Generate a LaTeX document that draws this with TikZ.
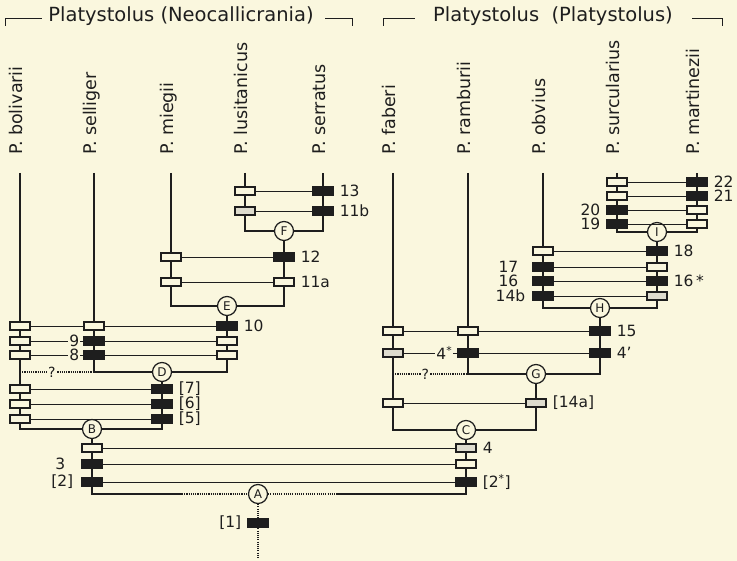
\documentclass[tikz,border=0pt]{standalone}
\usepackage{fontspec}
\setmainfont{DejaVu Sans}
\usetikzlibrary{positioning}
\definecolor{paper}{RGB}{250,247,222}
\definecolor{ink}{RGB}{30,30,30}
\definecolor{shade}{RGB}{222,220,206}

\begin{document}
\begin{tikzpicture}[x=1pt, y=-1pt,
    branch/.style={draw=ink, line width=1.8pt},
    guess/.style={draw=ink, line width=1.5pt, dash pattern=on 1.1pt off 1.1pt},
    rowline/.style={draw=ink, line width=0.8pt},
    charbox/.style={rectangle, draw=ink, line width=1.6pt, minimum width=19.5pt, minimum height=8.5pt, inner sep=0pt},
    openbox/.style={charbox, fill=paper},
    fullbox/.style={charbox, fill=ink},
    greybox/.style={charbox, fill=shade},
    junc/.style={circle, draw=ink, fill=paper, line width=1.2pt, minimum size=19pt, inner sep=0pt, text=ink, font=\fontsize{12}{13}\selectfont},
    taxon/.style={rotate=90, anchor=west, inner sep=0pt, text height=0.75em, text depth=0.25em, text=ink, font=\fontsize{17.5}{20}\selectfont},
    genus/.style={anchor=base, inner sep=0pt, text=ink, font=\fontsize{19.5}{22}\selectfont},
    charno/.style={inner sep=1pt, fill=paper, text=ink, font=\fontsize{15.5}{17}\selectfont},
    qmark/.style={inner sep=1pt, fill=paper, text=ink, font=\fontsize{14}{16}\selectfont}
]
\fill[paper] (0,0) rectangle (737,561);
\useasboundingbox (0,0) rectangle (737,561);

% Subgenus headers
\node[genus] (neo) at (181,22) {Platystolus (Neocallicrania)};
\node[genus] (pla) at (553,22) {Platystolus\ \ (Platystolus)};
\coordinate (neoL1) at (5,26);   \coordinate (neoL2) at (5,18);   \coordinate (neoL3) at (42,18);
\coordinate (neoR1) at (325,18); \coordinate (neoR2) at (352,18); \coordinate (neoR3) at (352,26);
\coordinate (plaL1) at (383,26); \coordinate (plaL2) at (383,18); \coordinate (plaL3) at (415,18);
\coordinate (plaR1) at (692,18); \coordinate (plaR2) at (722,18); \coordinate (plaR3) at (722,26);
\draw[rowline] (neoL1) -- (neoL2) -- (neoL3);
\draw[rowline] (neoR1) -- (neoR2) -- (neoR3);
\draw[rowline] (plaL1) -- (plaL2) -- (plaL3);
\draw[rowline] (plaR1) -- (plaR2) -- (plaR3);

% Species
\node[taxon] (bolN) at (20,155) {P. bolivarii};
\node[taxon] (selN) at (94,155) {P. selliger};
\node[taxon] (mieN) at (171,155) {P. miegii};
\node[taxon] (lusN) at (245,155) {P. lusitanicus};
\node[taxon] (serN) at (323,155) {P. serratus};
\node[taxon] (fabN) at (393,155) {P. faberi};
\node[taxon] (ramN) at (468,155) {P. ramburii};
\node[taxon] (obvN) at (543,155) {P. obvius};
\node[taxon] (surN) at (617,155) {P. surcularius};
\node[taxon] (marN) at (697,155) {P. martinezii};
\coordinate (bolT) at (20,173);
\coordinate (selT) at (94,173);
\coordinate (mieT) at (171,173);
\coordinate (lusT) at (245,173);
\coordinate (serT) at (323,173);
\coordinate (fabT) at (393,173);
\coordinate (ramT) at (468,173);
\coordinate (obvT) at (543,173);
\coordinate (surT) at (617,173);
\coordinate (marT) at (697,173);

% Branch points
\node[junc] (F) at (284,231) {F};
\node[junc] (E) at (227,306) {E};
\node[junc] (D) at (162,372) {D};
\node[junc] (B) at (92,429) {B};
\node[junc] (I) at (657,232) {I};
\node[junc] (H) at (600,308) {H};
\node[junc] (G) at (536,374) {G};
\node[junc] (C) at (466,430) {C};
\node[junc] (A) at (258,494) {A};
\coordinate (aLs) at (182,494);
\coordinate (aRs) at (337,494);
\coordinate (root) at (258,557);
\coordinate (bolQ) at (20,372);
\coordinate (selQ) at (94,372);
\coordinate (fabQ) at (393,374);
\coordinate (ramQ) at (468,374);

% Branches
\draw[branch] (lusT) |- (F) -| (serT);
\draw[branch] (mieT) |- (E) -| (F);
\draw[branch] (selT) |- (D) -| (E);
\draw[branch] (bolT) |- (B) -| (D);
\draw[branch] (surT) |- (I) -| (marT);
\draw[branch] (obvT) |- (H) -| (I);
\draw[branch] (ramT) |- (G) -| (H);
\draw[branch] (fabT) |- (C) -| (G);
\draw[branch] (B) |- (aLs);
\draw[guess] (aLs) -- (A) -- (aRs);
\draw[branch] (aRs) -| (C);
\draw[guess] (A) -- (root);
\draw[guess] (bolQ) -- node[qmark, pos=0.43] (q1) {?} (selQ);
\draw[guess] (fabQ) -- node[qmark, pos=0.43] (q2) {?} (ramQ);

% Characters, Neocallicrania
\node[openbox] (lus1) at (245,191) {};
\node[fullbox] (ser1) at (323,191) {};
\node[greybox] (lus2) at (245,211) {};
\node[fullbox] (ser2) at (323,211) {};
\node[openbox] (mie1) at (171,257) {};
\node[fullbox] (f1) at (284,257) {};
\node[openbox] (mie2) at (171,282) {};
\node[openbox] (f2) at (284,282) {};
\node[openbox] (bol1) at (20,326) {};
\node[openbox] (sel1) at (94,326) {};
\node[fullbox] (e1) at (227,326) {};
\node[openbox] (bol2) at (20,341) {};
\node[fullbox] (sel2) at (94,341) {};
\node[openbox] (e2) at (227,341) {};
\node[openbox] (bol3) at (20,355) {};
\node[fullbox] (sel3) at (94,355) {};
\node[openbox] (e3) at (227,355) {};
\node[openbox] (bol4) at (20,389) {};
\node[fullbox] (d1) at (162,389) {};
\node[openbox] (bol5) at (20,404) {};
\node[fullbox] (d2) at (162,404) {};
\node[openbox] (bol6) at (20,419) {};
\node[fullbox] (d3) at (162,419) {};

% Characters, genus
\node[openbox] (b1) at (92,448) {};
\node[greybox] (c1) at (466,448) {};
\node[fullbox] (b2) at (92,464) {};
\node[openbox] (c2) at (466,464) {};
\node[fullbox] (b3) at (92,482) {};
\node[fullbox] (c3) at (466,482) {};
\node[fullbox] (a1) at (258,523) {};

% Characters, Platystolus
\node[openbox] (sur1) at (617,182) {};
\node[fullbox] (mar1) at (697,182) {};
\node[openbox] (sur2) at (617,196) {};
\node[fullbox] (mar2) at (697,196) {};
\node[fullbox] (sur3) at (617,210) {};
\node[openbox] (mar3) at (697,210) {};
\node[fullbox] (sur4) at (617,224) {};
\node[openbox] (mar4) at (697,224) {};
\node[openbox] (obv1) at (543,251) {};
\node[fullbox] (i1) at (657,251) {};
\node[fullbox] (obv2) at (543,267) {};
\node[openbox] (i2) at (657,267) {};
\node[fullbox] (obv3) at (543,281) {};
\node[fullbox] (i3) at (657,281) {};
\node[fullbox] (obv4) at (543,296) {};
\node[greybox] (i4) at (657,296) {};
\node[openbox] (fab1) at (393,331) {};
\node[openbox] (ram1) at (468,331) {};
\node[fullbox] (h1) at (600,331) {};
\node[greybox] (fab2) at (393,353) {};
\node[fullbox] (ram2) at (468,353) {};
\node[fullbox] (h2) at (600,353) {};
\node[openbox] (fab3) at (393,403) {};
\node[greybox] (g1) at (536,403) {};

% Character links
\draw[rowline] (lus1) -- (ser1);
\draw[rowline] (lus2) -- (ser2);
\draw[rowline] (mie1) -- (f1);
\draw[rowline] (mie2) -- (f2);
\draw[rowline] (bol1) -- (sel1) -- (e1);
\draw[rowline] (bol2) -- (sel2) -- (e2);
\draw[rowline] (bol3) -- (sel3) -- (e3);
\draw[rowline] (bol4) -- (d1);
\draw[rowline] (bol5) -- (d2);
\draw[rowline] (bol6) -- (d3);
\draw[rowline] (b1) -- (c1);
\draw[rowline] (b2) -- (c2);
\draw[rowline] (b3) -- (c3);
\draw[rowline] (sur1) -- (mar1);
\draw[rowline] (sur2) -- (mar2);
\draw[rowline] (sur3) -- (mar3);
\draw[rowline] (sur4) -- (mar4);
\draw[rowline] (obv1) -- (i1);
\draw[rowline] (obv2) -- (i2);
\draw[rowline] (obv3) -- (i3);
\draw[rowline] (obv4) -- (i4);
\draw[rowline] (fab1) -- (ram1) -- (h1);
\draw[rowline] (fab2) -- (ram2) -- (h2);
\draw[rowline] (fab3) -- (g1);

% Character numbers
\node[charno, right=5pt of ser1] (l13) {13};
\node[charno, right=5pt of ser2] (l11b) {11b};
\node[charno, right=5pt of f1] (l12) {12};
\node[charno, right=5pt of f2] (l11a) {11a};
\node[charno, right=5pt of e1] (l10) {10};
\node[charno, left=3pt of sel2] (l9) {9};
\node[charno, left=3pt of sel3] (l8) {8};
\node[charno, right=5pt of d1] (l7) {[7]};
\node[charno, right=5pt of d2] (l6) {[6]};
\node[charno, right=5pt of d3] (l5) {[5]};
\node[charno, right=5pt of c1] (l4) {4};
\node[charno, left=15pt of b2] (l3) {3};
\node[charno, left=7pt of b3] (l2) {[2]};
\node[charno, right=5pt of c3] (l2s) {[2\textsuperscript{*}]};
\node[charno, left=5pt of a1] (l1) {[1]};
\node[charno, right=5pt of mar1] (l22) {22};
\node[charno, right=5pt of mar2] (l21) {21};
\node[charno, left=5pt of sur3] (l20) {20};
\node[charno, left=5pt of sur4] (l19) {19};
\node[charno, right=5pt of i1] (l18) {18};
\node[charno, left=13pt of obv2] (l17) {17};
\node[charno, left=13pt of obv3] (l16) {16};
\node[charno, right=5pt of i3] (l16s) {16\,*};
\node[charno, left=6pt of obv4] (l14b) {14b};
\node[charno, right=5pt of h1] (l15) {15};
\node[charno, left=4pt of ram2] (l4s) {4\textsuperscript{*}};
\node[charno, right=5pt of h2] (l4p) {4’};
\node[charno, right=5pt of g1] (l14a) {[14a]};

\end{tikzpicture}
\end{document}
